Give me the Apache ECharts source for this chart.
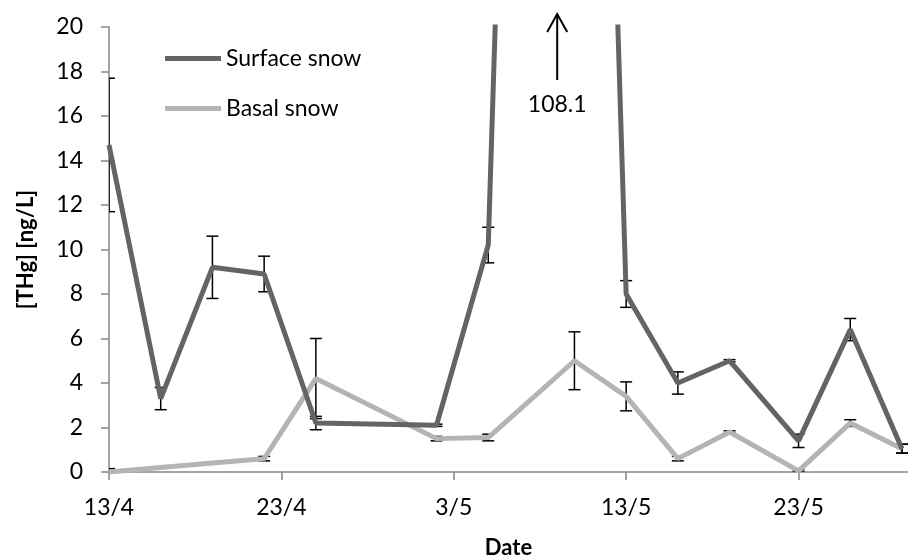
<!DOCTYPE html>
<html>
<head>
<meta charset="utf-8">
<script src="https://cdn.jsdelivr.net/npm/echarts@6/dist/echarts.min.js"></script>
<style>
  html, body { margin: 0; padding: 0; background: #fff; }
  #main { width: 908px; height: 559px; }
</style>
</head>
<body>
<div id="main"></div>
<script>
// sampling dates (day/month) and values
const surfaceDates = ['13/4', '16/4', '19/4', '22/4', '25/4', '2/5', '5/5', '9/5', '13/5', '16/5', '19/5', '23/5', '26/5', '29/5'];
const surfaceValues = [14.7, 3.3, 9.2, 8.9, 2.2, 2.1, 10.2, 108.1, 8.0, 4.0, 5.0, 1.4, 6.4, 1.05];
const surfaceErrors = [3.0, 0.5, 1.4, 0.8, 0.3, 0.05, 0.8, null, 0.6, 0.5, 0.05, 0.3, 0.5, 0.2];

const basalDates = ['13/4', '19/4', '22/4', '25/4', '2/5', '5/5', '10/5', '13/5', '16/5', '19/5', '23/5', '26/5', '29/5'];
const basalValues = [0.0, 0.4, 0.6, 4.2, 1.5, 1.55, 5.0, 3.4, 0.6, 1.8, 0.05, 2.2, 1.05];
const basalErrors = [0.15, 0.05, 0.1, 1.8, 0.1, 0.15, 1.3, 0.65, 0.1, 0.05, 0.05, 0.15, 0.2];

const yTicks = { min: 0, max: 20, interval: 2 };
const FONT = 'Lato';
const YEAR = 2014;
const START = Date.UTC(YEAR, 3, 13);

// days since 13/4
function dayOf(s) {
  var p = s.split('/').map(Number);
  return (Date.UTC(YEAR, p[1] - 1, p[0]) - START) / 86400000;
}
function dayLabel(v) {
  var d = new Date(START + v * 86400000);
  return d.getUTCDate() + '/' + (d.getUTCMonth() + 1);
}

function pairs(dates, vals) {
  return dates.map(function (d, i) { return [dayOf(d), vals[i]]; });
}
function errData(dates, vals, errs) {
  var out = [];
  dates.forEach(function (d, i) {
    if (errs[i] != null) out.push([dayOf(d), vals[i], errs[i]]);
  });
  return out;
}

function renderErr(params, api) {
  var x = api.value(0), v = api.value(1), e = api.value(2);
  var top = api.coord([x, v + e]);
  var bot = api.coord([x, v - e]);
  var half = 6;
  var st = { stroke: '#000', lineWidth: 1.5 };
  return {
    type: 'group',
    children: [
      { type: 'line', shape: { x1: top[0], y1: top[1], x2: bot[0], y2: bot[1] }, style: st },
      { type: 'line', shape: { x1: top[0] - half, y1: top[1], x2: top[0] + half, y2: top[1] }, style: st },
      { type: 'line', shape: { x1: bot[0] - half, y1: bot[1], x2: bot[0] + half, y2: bot[1] }, style: st }
    ]
  };
}

// off-scale peak: arrow at top of plot with the value
function renderPeak(params, api) {
  var x = api.value(0), v = api.value(1);
  var p = api.coord([x, yTicks.max]);
  var st = { stroke: '#000', lineWidth: 2, fill: null };
  return {
    type: 'group',
    children: [
      { type: 'line', shape: { x1: p[0], y1: p[1] + 53, x2: p[0], y2: p[1] - 13 }, style: st },
      { type: 'polyline', shape: { points: [[p[0] - 10, p[1] + 5], [p[0], p[1] - 13], [p[0] + 10, p[1] + 5]] }, style: st },
      { type: 'text', x: p[0], y: p[1] + 78, style: { text: v.toFixed(1), fill: '#000', font: '23px ' + FONT, align: 'center', verticalAlign: 'middle' } }
    ]
  };
}

const chart = echarts.init(document.getElementById('main'));

var peakIdx = surfaceValues.indexOf(Math.max.apply(null, surfaceValues));

var option = {
  animation: false,
  textStyle: { fontFamily: FONT },
  grid: { left: 109, top: 27, right: 0, height: 445, outerBoundsMode: 'none' },
  legend: {
    orient: 'vertical',
    left: 160,
    top: 42,
    itemGap: 27,
    itemWidth: 56,
    itemHeight: 5,
    textStyle: { fontSize: 23, color: '#000', fontFamily: FONT },
    data: [
      { name: 'Surface snow', icon: 'rect' },
      { name: 'Basal snow', icon: 'rect' }
    ]
  },
  xAxis: {
    type: 'value',
    min: 0,
    max: 46.35,
    interval: 10,
    name: 'Date',
    nameLocation: 'middle',
    nameGap: 65,
    nameTextStyle: { fontSize: 22, fontWeight: 'bold', color: '#000' },
    splitLine: { show: false },
    axisLine: { lineStyle: { color: '#868686', width: 1.5 } },
    axisTick: { length: 8, lineStyle: { color: '#868686', width: 1.5 } },
    axisLabel: { fontSize: 23, color: '#000', margin: 24, showMaxLabel: false, formatter: dayLabel }
  },
  yAxis: {
    type: 'value',
    min: yTicks.min,
    max: yTicks.max,
    interval: yTicks.interval,
    name: '[THg] [ng/L]',
    nameLocation: 'middle',
    nameGap: 72,
    nameTextStyle: { fontSize: 22, fontWeight: 'bold', color: '#000' },
    splitLine: { show: false },
    axisLine: { show: true, lineStyle: { color: '#868686', width: 1.5 } },
    axisTick: { show: true, length: 8, lineStyle: { color: '#868686', width: 1.5 } },
    axisLabel: { fontSize: 23, color: '#000', margin: 26 }
  },
  series: [
    {
      type: 'custom', name: 'surfErr', z: 1, clip: true,
      renderItem: renderErr,
      data: errData(surfaceDates, surfaceValues, surfaceErrors)
    },
    {
      type: 'custom', name: 'basalErr', z: 1, clip: true,
      renderItem: renderErr,
      data: errData(basalDates, basalValues, basalErrors)
    },
    {
      name: 'Basal snow',
      type: 'line',
      z: 2,
      symbol: 'none',
      clip: true,
      color: '#b4b4b4',
      lineStyle: { width: 5, color: '#b4b4b4' },
      data: pairs(basalDates, basalValues)
    },
    {
      name: 'Surface snow',
      type: 'line',
      z: 3,
      symbol: 'none',
      clip: true,
      color: '#646464',
      lineStyle: { width: 5, color: '#646464' },
      data: pairs(surfaceDates, surfaceValues)
    },
    {
      type: 'custom', name: 'peak', z: 4, clip: false,
      renderItem: renderPeak,
      data: [[dayOf(surfaceDates[peakIdx]), surfaceValues[peakIdx]]]
    }
  ]
};

chart.setOption(option);
</script>
</body>
</html>
